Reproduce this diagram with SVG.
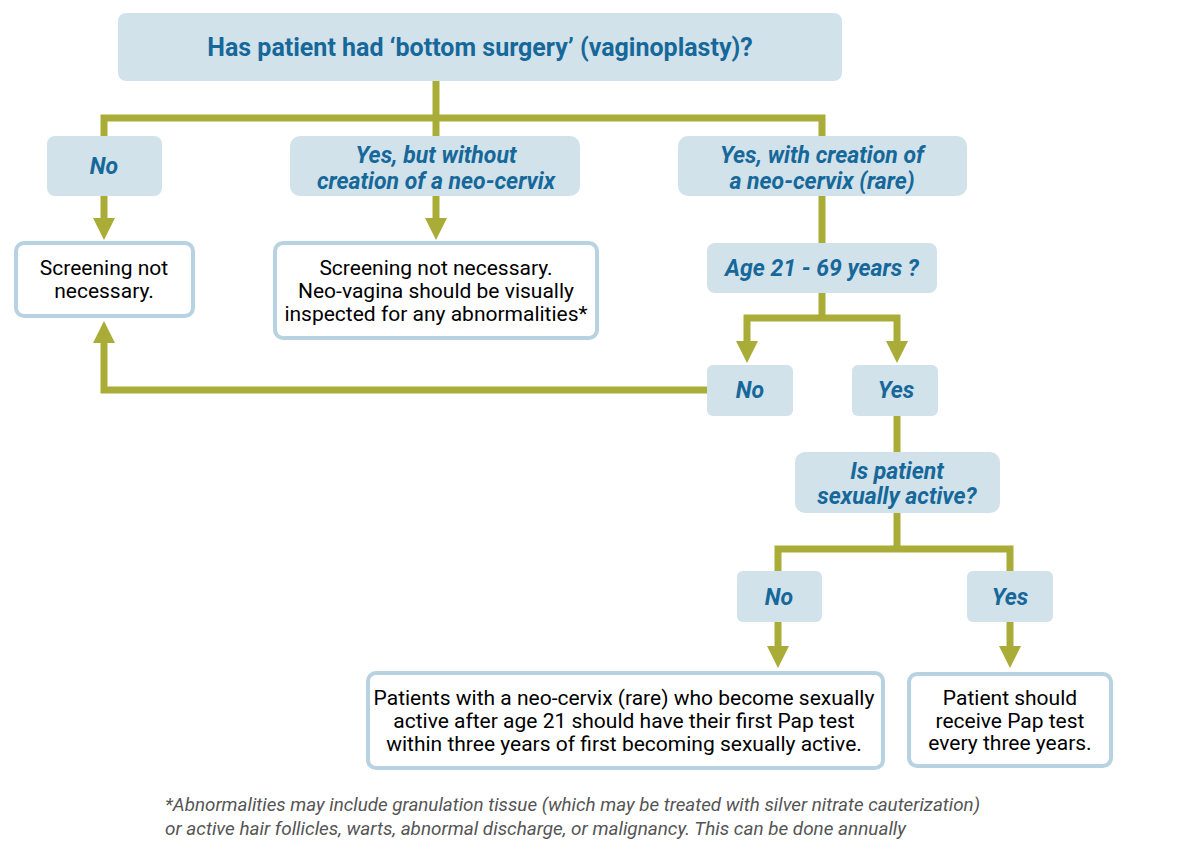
<svg xmlns="http://www.w3.org/2000/svg" width="1182" height="867" viewBox="0 0 1182 867">
<defs>
<style>
.q{fill:#d1e2ea;}
.r{fill:#ffffff;stroke:#b7d3e1;stroke-width:4;}
.qt{font-family:Roboto,"Liberation Sans",sans-serif;font-weight:bold;font-style:italic;font-size:23px;fill:#17689a;text-anchor:middle;}
.tt{font-family:Roboto,"Liberation Sans",sans-serif;font-weight:bold;font-size:25px;fill:#17689a;text-anchor:middle;}
.rt{font-family:Roboto,"Liberation Sans",sans-serif;font-size:21px;fill:#000;text-anchor:middle;}
.ft{font-family:Roboto,"Liberation Sans",sans-serif;font-style:italic;font-size:18.5px;fill:#555;}
.ln{fill:none;stroke:#a9ad37;stroke-width:7;stroke-linejoin:miter;}
.ah{fill:#a9ad37;}
</style>
</defs>
<rect width="1182" height="867" fill="#fff"/>
<g id="connectors">
<path class="ln" d="M436 81 V118 M104 136 V118 H822 V136 M436 118 V136"/>
<path class="ln" d="M104 196 V220 M436 196 V220"/>
<polygon class="ah" points="93,218 115,218 104,240"/>
<polygon class="ah" points="425,218 447,218 436,240"/>
<path class="ln" d="M822 196 V243"/>
<path class="ln" d="M822 293 V318 M747 341 V318 H897 V341"/>
<polygon class="ah" points="736,341 758,341 747,363"/>
<polygon class="ah" points="886,341 908,341 897,363"/>
<path class="ln" d="M707 390 H104 V342"/>
<polygon class="ah" points="93,343 115,343 104,321"/>
<path class="ln" d="M897 416 V452"/>
<path class="ln" d="M897 513 V549 M778 571 V549 H1010 V571"/>
<path class="ln" d="M778 622 V648 M1010 622 V648"/>
<polygon class="ah" points="767,646 789,646 778,668"/>
<polygon class="ah" points="999,646 1021,646 1010,668"/>
</g>
<g id="n-top"><rect class="q" x="118" y="13" width="724" height="68" rx="8"/><text class="tt" x="480" y="56">Has patient had ‘bottom surgery’ (vaginoplasty)?</text></g>
<g id="n-no1"><rect class="q" x="47" y="136" width="115" height="60" rx="8"/><text class="qt" x="104" y="174">No</text></g>
<g id="n-yesbut"><rect class="q" x="290" y="136" width="290" height="60" rx="10"/><text class="qt" x="436" y="163">Yes, but without</text><text class="qt" x="436" y="189">creation of a neo-cervix</text></g>
<g id="n-yeswith"><rect class="q" x="678" y="136" width="289" height="60" rx="10"/><text class="qt" x="822" y="163">Yes, with creation of</text><text class="qt" x="822" y="189">a neo-cervix (rare)</text></g>
<g id="n-screen1"><rect class="r" x="16" y="243" width="177" height="73" rx="8"/><text class="rt" x="104" y="275">Screening not</text><text class="rt" x="104" y="298">necessary.</text></g>
<g id="n-screen2"><rect class="r" x="275" y="243" width="322" height="95" rx="8"/><text class="rt" x="436" y="275">Screening not necessary.</text><text class="rt" x="436" y="298">Neo-vagina should be visually</text><text class="rt" x="436" y="321">inspected for any abnormalities*</text></g>
<g id="n-age"><rect class="q" x="707" y="243" width="230" height="50" rx="8"/><text class="qt" x="822" y="276">Age 21 - 69 years ?</text></g>
<g id="n-no2"><rect class="q" x="707" y="365" width="86" height="51" rx="6"/><text class="qt" x="750" y="398">No</text></g>
<g id="n-yes2"><rect class="q" x="852" y="365" width="86" height="51" rx="6"/><text class="qt" x="896" y="398">Yes</text></g>
<g id="n-active"><rect class="q" x="795" y="452" width="205" height="61" rx="10"/><text class="qt" x="897" y="479">Is patient</text><text class="qt" x="897" y="504">sexually active?</text></g>
<g id="n-no3"><rect class="q" x="737" y="571" width="85" height="51" rx="6"/><text class="qt" x="779" y="605">No</text></g>
<g id="n-yes3"><rect class="q" x="967" y="571" width="86" height="51" rx="6"/><text class="qt" x="1010" y="605">Yes</text></g>
<g id="n-first"><rect class="r" x="368" y="673" width="515" height="95" rx="8"/><text class="rt" x="624" y="705">Patients with a neo-cervix (rare) who become sexually</text><text class="rt" x="624" y="728">active after age 21 should have their first Pap test</text><text class="rt" x="624" y="751">within three years of first becoming sexually active.</text></g>
<g id="n-every"><rect class="r" x="909" y="674" width="202" height="92" rx="8"/><text class="rt" x="1010" y="705">Patient should</text><text class="rt" x="1010" y="728">receive Pap test</text><text class="rt" x="1010" y="750">every three years.</text></g>
<g id="footnote"><text class="ft" x="165" y="811" textLength="815" lengthAdjust="spacingAndGlyphs">*Abnormalities may include granulation tissue (which may be treated with silver nitrate cauterization)</text><text class="ft" x="165" y="835" textLength="741" lengthAdjust="spacingAndGlyphs">or active hair follicles, warts, abnormal discharge, or malignancy. This can be done annually</text></g>
</svg>
